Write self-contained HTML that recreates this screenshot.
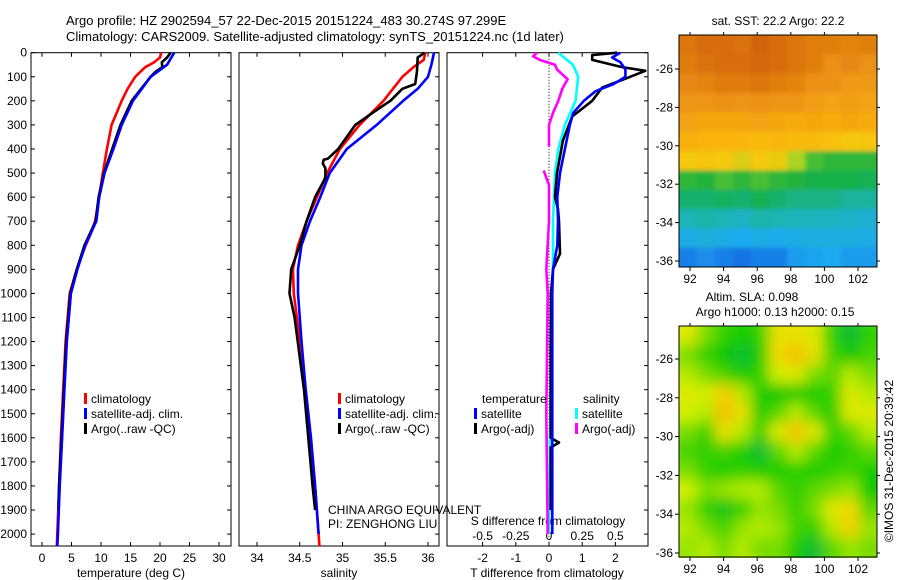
<!DOCTYPE html>
<html><head><meta charset="utf-8">
<style>
html,body{margin:0;padding:0;background:#fff;}
svg{display:block;font-family:"Liberation Sans",sans-serif;}
text{font-size:12px;fill:#000;}
</style></head>
<body>
<svg id="chart" width="900" height="580" viewBox="0 0 900 580" xmlns="http://www.w3.org/2000/svg">
<defs>
<filter id="blur1" x="0" y="0" width="1" height="1"><feGaussianBlur stdDeviation="7"/></filter>
<filter id="blur2" x="0" y="0" width="1" height="1"><feGaussianBlur stdDeviation="2"/></filter>
<clipPath id="clipSST"><rect x="679" y="35" width="198" height="232"/></clipPath>
<clipPath id="clipSLA"><rect x="679" y="326" width="198" height="232"/></clipPath>
</defs>
<text x="66" y="25" style="font-size:13px">Argo profile: HZ 2902594_57 22-Dec-2015 20151224_483 30.274S 97.299E</text>
<text x="66" y="41" style="font-size:13px">Climatology: CARS2009. Satellite-adjusted climatology: synTS_20151224.nc (1d later)</text>
<g id="g"></g>
</svg>
<script>
// ---- data ----
const depthTick = [0,100,200,300,400,500,600,700,800,900,1000,1100,1200,1300,1400,1500,1600,1700,1800,1900,2000];
const tempTicks = [0,5,10,15,20,25,30];
const salTicks = [34,34.5,35,35.5,36];
const salTickLabels = ["34","34.5","35","35.5","36"];
const tdTicks = [-2,-1,0,1,2];
const sdTickLabels = ["-0.5","-0.25","0","0.25","0.5"];
const sdTicks = [-0.5,-0.25,0,0.25,0.5];

const tClimD = [0,20,40,60,100,150,200,300,400,500,600,700,750,800,900,1000,1200,1400,1600,1800,2000,2050];
const tClim  = [20.2,20,19,17.5,15.8,14.5,13.5,11.8,11,10.3,9.7,9.0,8.3,7.4,5.9,4.7,4.0,3.6,3.2,2.9,2.6,2.5];
const tSatD  = [0,50,100,200,300,400,500,600,700,800,900,1000,1200,1400,1600,1800,2000,2050];
const tSat   = [22.4,21.2,18.4,15.4,13.5,12.1,10.6,9.7,9.2,7.3,6.0,4.9,4.2,3.8,3.4,3.0,2.7,2.6];
const tArgoD = [0,20,40,60,80,100,200,300,400,500,600,700,800,900,1000,1200,1400,1600,1800,1900];
const tArgo  = [21.8,21.2,20.3,20.4,19.2,18.4,15.2,13.3,11.9,10.5,9.6,9.1,7.2,5.9,4.8,4.1,3.7,3.3,2.9,2.8];

const sClimD = [0,30,60,100,200,300,400,500,600,700,800,900,1000,1200,1400,1600,1800,2000,2050];
const sClim  = [35.97,35.95,35.83,35.7,35.48,35.2,34.97,34.82,34.7,34.58,34.48,34.42,34.43,34.5,34.57,34.63,34.68,34.72,34.73];
const sSatD  = [0,50,100,150,200,300,400,500,600,700,800,900,1000,1200,1400,1600,1800,2000];
const sSat   = [36.07,36.04,36.0,35.88,35.71,35.4,35.05,34.85,34.74,34.62,34.52,34.48,34.48,34.52,34.57,34.63,34.68,34.72];
const sArgoD = [0,20,80,130,150,200,250,300,400,440,445,460,480,520,600,700,800,900,1000,1100,1400,1800,1900];
const sArgo  = [35.96,35.88,35.87,35.85,35.7,35.56,35.35,35.15,34.95,34.83,34.78,34.77,34.8,34.8,34.68,34.58,34.5,34.4,34.38,34.44,34.55,34.65,34.68];

const dTSatD = [0,20,40,70,100,130,160,200,250,300,400,500,600,700,800,900,1000,1400,1800,2000];
const dTSat  = [2.15,1.9,2.15,2.3,2.3,1.95,1.4,1.05,0.73,0.63,0.48,0.33,0.25,0.27,0.25,0.12,0.1,0.1,0.1,0.1];
const dTArgoD = [0,10,30,60,75,108,145,200,265,365,500,600,650,700,835,900,1000,1300,1600,1620,1640,1900];
const dTArgo  = [2.05,1.3,1.3,2.2,2.9,2.3,1.6,1.3,0.7,0.42,0.24,0.18,0.27,0.3,0.33,0.12,0.06,0.05,0.05,0.3,0.05,0.05];
const dSSatD = [0,50,100,200,300,400,500,700,900,1000,1500,2000];
const dSSat  = [0.07,0.18,0.22,0.2,0.12,0.07,0.045,0.03,0.03,0.02,0.01,0.0];
const dSArgoD = [0,15,30,50,70,110,150,200,250,300,390];
const dSArgo  = [-0.09,-0.12,-0.07,0.045,0.06,0.14,0.1,0.07,0.03,0.0,0.0];
const dSArgoD2 = [490,550,700,900,1000,1500,2000];
const dSArgo2  = [-0.04,0.0,0.0,-0.02,-0.01,-0.02,-0.01];

const latTicks = [-26,-28,-30,-32,-34,-36];
const lonTicks = [92,94,96,98,100,102];
const sstGrid = [
[0.86,0.88,0.88,0.87,0.9,0.88,0.86,0.84,0.84,0.83,0.84],
[0.85,0.87,0.88,0.88,0.89,0.88,0.86,0.84,0.8,0.82,0.8],
[0.82,0.83,0.85,0.85,0.86,0.84,0.83,0.8,0.8,0.78,0.78],
[0.79,0.79,0.8,0.79,0.8,0.79,0.79,0.77,0.76,0.77,0.76],
[0.76,0.75,0.75,0.75,0.76,0.75,0.74,0.75,0.74,0.75,0.74],
[0.73,0.72,0.72,0.71,0.7,0.71,0.7,0.7,0.68,0.66,0.67],
[0.66,0.67,0.66,0.64,0.66,0.65,0.6,0.52,0.5,0.5,0.5],
[0.5,0.49,0.52,0.5,0.52,0.5,0.49,0.47,0.47,0.47,0.46],
[0.44,0.44,0.45,0.44,0.46,0.44,0.42,0.42,0.42,0.4,0.4],
[0.38,0.39,0.38,0.36,0.39,0.38,0.37,0.37,0.36,0.35,0.33],
[0.3,0.32,0.3,0.28,0.3,0.29,0.3,0.31,0.31,0.31,0.3],
[0.22,0.24,0.22,0.2,0.22,0.22,0.26,0.27,0.28,0.26,0.26]];
const slaGrid = [
[0.7,0.5,0.35,0.3,0.35,0.75,0.75,0.7,0.35,0.15,0.35],
[0.5,0.35,0.25,0.15,0.3,0.8,0.9,0.75,0.4,0.25,0.4],
[0.6,0.5,0.4,0.3,0.35,0.65,0.7,0.5,0.45,0.6,0.5],
[0.7,0.65,0.85,0.6,0.3,0.25,0.3,0.3,0.35,0.7,0.6],
[0.65,0.6,0.9,0.75,0.3,0.45,0.6,0.45,0.3,0.7,0.7],
[0.5,0.35,0.75,0.6,0.35,0.7,0.9,0.7,0.35,0.45,0.6],
[0.4,0.35,0.4,0.3,0.15,0.45,0.6,0.45,0.3,0.35,0.45],
[0.5,0.35,0.3,0.35,0.3,0.3,0.35,0.3,0.35,0.4,0.3],
[0.65,0.5,0.55,0.6,0.6,0.45,0.35,0.45,0.5,0.55,0.25],
[0.55,0.35,0.2,0.35,0.55,0.5,0.35,0.5,0.7,0.8,0.45],
[0.6,0.5,0.4,0.55,0.6,0.55,0.4,0.35,0.6,0.85,0.55],
[0.55,0.6,0.5,0.6,0.5,0.5,0.3,0.15,0.45,0.55,0.5]];

// ---- helpers ----
const NS="http://www.w3.org/2000/svg";
const G=document.getElementById('g');
function mk(tag,at,parent){const e=document.createElementNS(NS,tag);for(const k in at)e.setAttribute(k,at[k]);(parent||G).appendChild(e);return e;}
function txt(x,y,s,anchor,size){const t=mk('text',{x:x,y:y,'text-anchor':anchor||'start'});if(size)t.style.fontSize=size+'px';t.textContent=s;return t;}
const yD=d=>52.7+d*0.2407;
const xT=v=>42+v*5.9;
const xS=v=>257+(v-34)*85.5;
const xTD=v=>549+v*33.2;
const xSD=v=>549+v*132.8;
const P=[{x0:31,x1:231},{x0:239,x1:439},{x0:447,x1:648}];
const top0=52.7, bot0=546;

// frames
P.forEach((p,i)=>{
 const r=mk('rect',{x:p.x0,y:top0,width:p.x1-p.x0,height:bot0-top0,fill:'none',stroke:'#000','stroke-width':1});
 
 
 depthTick.forEach(d=>{mk('line',{x1:p.x1-4,x2:p.x1,y1:yD(d),y2:yD(d),stroke:'#000'});
   if(i==0) mk('line',{x1:p.x0,x2:p.x0+4,y1:yD(d),y2:yD(d),stroke:'#000'});});
});
depthTick.forEach(d=>{const t=txt(27,yD(d)+4,String(d),'end');
 
 });
function xticks(arr,fx,labels,p){arr.forEach((v,k)=>{const x=fx(v);
 mk('line',{x1:x,x2:x,y1:top0,y2:top0+4,stroke:'#000'});mk('line',{x1:x,x2:x,y1:bot0-4,y2:bot0,stroke:'#000'});
 const t=txt(x,562,labels[k],'middle');
 
 });}
xticks(tempTicks,xT,tempTicks.map(String));
xticks(salTicks,xS,salTickLabels);
xticks(tdTicks,xTD,tdTicks.map(String));
sdTicks.forEach((v,k)=>{const t=txt(xSD(v),540,sdTickLabels[k],'middle');
 
 });
let t;
t=txt(131,577,'temperature (deg C)','middle');
t=txt(339,577,'salinity','middle');
t=txt(547,577,'T difference from climatology','middle');
t=txt(548,525,'S difference from climatology','middle');
t=txt(328,514,'CHINA ARGO EQUIVALENT');
t=txt(328,528,'PI: ZENGHONG LIU');

// zero dotted line
const zl=mk('line',{x1:xTD(0),x2:xTD(0),y1:top0,y2:bot0,stroke:'#000','stroke-dasharray':'1,2'});



function line(ds,vs,fx,col,name,w){
 const pts=ds.map((d,k)=>fx(vs[k]).toFixed(1)+','+yD(d).toFixed(1)).join(' ');
 const e=mk('polyline',{points:pts,fill:'none',stroke:col,'stroke-width':w||2.6,'stroke-linejoin':'round'});
 
 
}
line(tClimD,tClim,xT,'#f00','temp-climatology-line');
line(tSatD,tSat,xT,'#00f','temp-satellite-line');
line(tArgoD,tArgo,xT,'#000','temp-argo-line');
line(tSatD,tSat,xT,'#00f','temp-satellite-line-top',2.2);
line(sClimD,sClim,xS,'#f00','sal-climatology-line');
line(sSatD,sSat,xS,'#00f','sal-satellite-line');
line(sArgoD,sArgo,xS,'#000','sal-argo-line');
line(dSSatD,dSSat,xSD,'#0ff','s-diff-satellite-line');
line(dSArgoD,dSArgo,xSD,'#f0f','s-diff-argo-line');
line(dSArgoD2,dSArgo2,xSD,'#f0f','s-diff-argo-line-deep');
line(dTArgoD,dTArgo,xTD,'#000','t-diff-argo-line');
line(dTSatD,dTSat,xTD,'#00f','t-diff-satellite-line');

// legends
function leg(x,y,col,label){const r=mk('rect',{x:x,y:y-10,width:3,height:11,fill:col});
 
 
 const tt=txt(x+7,y,label);
 
 }
[[84,'#f00','climatology'],[84,'#00f','satellite-adj. clim.'],[84,'#000','Argo(..raw -QC)']].forEach((a,k)=>leg(a[0],403+k*15,a[1],a[2]));
[[338,'#f00','climatology'],[338,'#00f','satellite-adj. clim.'],[338,'#000','Argo(..raw -QC)']].forEach((a,k)=>leg(a[0],403+k*15,a[1],a[2]));
t=txt(482,403,'temperature');
t=txt(583,403,'salinity');
leg(474,418,'#00f','satellite');leg(474,433,'#000','Argo(-adj)');
leg(575,418,'#0ff','satellite');leg(575,433,'#f0f','Argo(-adj)');

// ---- maps ----
const sstStops=[[0,[0,0,140]],[0.15,[20,80,220]],[0.28,[30,170,240]],[0.38,[30,180,180]],[0.48,[20,175,60]],[0.58,[150,215,40]],[0.66,[245,200,10]],[0.72,[250,180,15]],[0.8,[235,145,20]],[0.9,[210,100,10]]];
const slaStops=[[0,[30,170,120]],[0.25,[0,200,0]],[0.45,[90,215,0]],[0.65,[210,240,0]],[0.82,[245,215,0]],[1,[240,160,0]]];
function cmap(stops,v){for(let i=1;i<stops.length;i++){if(v<=stops[i][0]||i==stops.length-1){const a=stops[i-1],b=stops[i];let f=(v-a[0])/(b[0]-a[0]);f=Math.max(0,Math.min(1,f));
 return 'rgb('+a[1].map((c,j)=>Math.round(c+(b[1][j]-c)*f)).join(',')+')';}}}
function drawMap(grid,stops,top,bottom,clip,filt,name,lat26,lat36){
 const x0=679,x1=877;
 const gg=mk('g',{'clip-path':'url(#'+clip+')'});
 const inner=mk('g',{filter:'url(#'+filt+')'},gg);
 const rows=grid.length,cols=grid[0].length;
 const cw=(x1-x0)/cols,ch=(bottom-top)/rows;
 grid.forEach((row,r)=>row.forEach((v,c)=>{
  const e=mk('rect',{x:x0+c*cw-(c==0?10:0),y:top+r*ch-(r==0?10:0),width:cw+1+(c==0||c==cols-1?10:0),height:ch+1+(r==0||r==rows-1?10:0),fill:cmap(stops,v)},inner);
  
  
 }));
 const fr=mk('rect',{x:x0,y:top,width:x1-x0,height:bottom-top,fill:'none',stroke:'#000'});
 
 
 const yl=lat=>lat26+(lat-(-26))*(lat36-lat26)/(-10);
 latTicks.forEach(l=>{const y=yl(l);mk('line',{x1:x0-4,x2:x0,y1:y,y2:y,stroke:'#000'});mk('line',{x1:x1,x2:x1+3,y1:y,y2:y,stroke:'#000'});
  const tt=txt(x0-6,y+4,String(l),'end');
  
  });
 const xl=lon=>690+(lon-92)*16.8;
 lonTicks.forEach(l=>{const x=xl(l);mk('line',{x1:x,x2:x,y1:bottom,y2:bottom+4,stroke:'#000'});mk('line',{x1:x,x2:x,y1:top-3,y2:top,stroke:'#000'});
  const tt=txt(x,bottom+16,String(l),'middle');
  
  });
}
drawMap(sstGrid,sstStops,35,267,'clipSST','blur2','sst-map',69,261);
drawMap(slaGrid,slaStops,326,557,'clipSLA','blur1','sla-map',359,553);
t=txt(778,25,'sat. SST: 22.2 Argo: 22.2','middle');
t=txt(752,301,'Altim. SLA: 0.098','middle');
t=txt(775,316,'Argo h1000: 0.13 h2000: 0.15','middle');
t=txt(0,0,'©IMOS 31-Dec-2015 20:39:42','middle');t.setAttribute('transform','translate(893,461) rotate(-90)');


</script>
</body></html>
